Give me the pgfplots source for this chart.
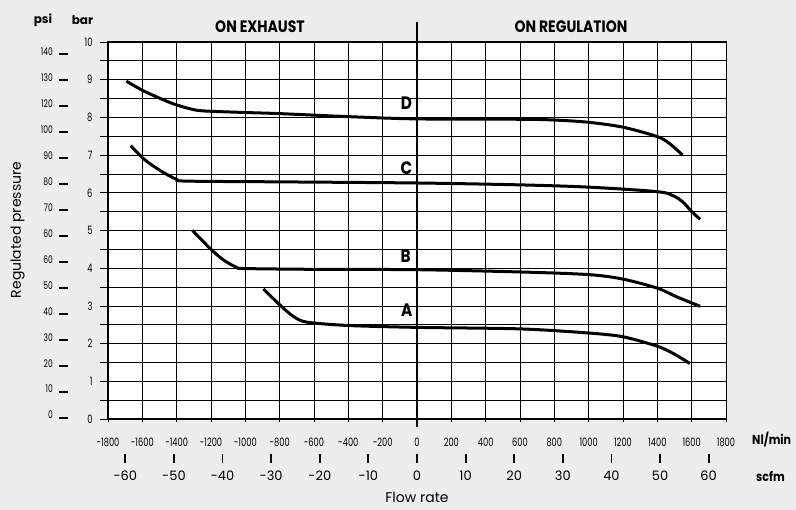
\documentclass[border=0pt]{standalone}
\usepackage{pgfplots}
\pgfplotsset{compat=1.18}
\usepackage{fontspec}
\setmainfont{Poppins}
\newfontfamily\condfont[FakeStretch=0.72]{Poppins}
\newfontfamily\boldcond[FakeStretch=0.85]{Poppins Bold}
\definecolor{bgc}{HTML}{EDEDED}
\newcommand{\psid}{\hspace{6pt}\rule[0.3pt]{9pt}{1.5pt}}
\newcommand{\scf}[1]{\makebox[0pt]{\raisebox{18.2pt}{\rule{1.8pt}{9pt}}}\makebox[0pt]{#1}}

\begin{document}
\begin{tikzpicture}[x=1pt,y=1pt]
\fill[bgc] (0pt,0pt) rectangle (796pt,510pt);
\path[use as bounding box] (0pt,0pt) rectangle (796pt,510pt);

% main axis: Nl/min and bar
\begin{axis}[at={(108pt,91pt)}, anchor=south west, scale only axis,
  width=618pt, height=377pt,
  xmin=-1800, xmax=1800, ymin=0, ymax=10,
  axis background/.style={fill=white},
  xtick={-1800,-1600,...,1800},
  xticklabels={-1800,-1600,-1400,-1200,-1000,-800,-600,-400,-200,0,200,400,600,800,1000,1200,1400,1600,1800},
  ytick={0,1,...,10},
  yticklabels={0,1,2,3,4,5,6,7,8,9,10},
  minor ytick={0.5,1.5,...,9.5},
  xtick pos=bottom, ytick pos=left,
  grid=both,
  grid style={black, line width=0.7pt},
  minor grid style={black, line width=0.7pt},
  tick align=outside,
  major tick length=8pt, minor tick length=8pt,
  xtick style={/pgfplots/major tick length=3pt},
  tick style={black, line width=0.7pt},
  axis line style={black, line width=1pt},
  xticklabel style={font=\condfont\fontsize{11.5}{12}\selectfont, anchor=center, yshift=-15pt},
  yticklabel style={font=\condfont\fontsize{11.5}{12}\selectfont, anchor=east, xshift=-4pt},
  clip=false,
]
\draw[line width=2pt] (axis cs:0,-0.2) -- (axis cs:0,10.53);

\addplot[smooth, line width=3pt] coordinates {
(-1693,8.96) (-1587,8.69) (-1431,8.38) (-1315,8.22) (-1237,8.17) (-1004,8.13)
(-800,8.10) (-400,8.02) (0,7.96) (600,7.95) (800,7.93) (1000,7.87) (1200,7.74)
(1400,7.49) (1473,7.30) (1547,7.00)};
\addplot[smooth, line width=3pt] coordinates {
(-1668,7.25) (-1587,6.88) (-1489,6.57) (-1402,6.36) (-1344,6.31) (-800,6.29)
(0,6.26) (600,6.21) (1000,6.15) (1400,6.03) (1493,5.92) (1550,5.75) (1600,5.50)
(1649,5.30)};
\addplot[smooth, line width=3pt] coordinates {
(-1308,5.00) (-1200,4.50) (-1128,4.22) (-1050,4.02) (-1000,3.99) (-600,3.97)
(0,3.96) (600,3.90) (1000,3.83) (1200,3.71) (1400,3.47) (1513,3.24) (1649,2.99)};
\addplot[smooth, line width=3pt] coordinates {
(-895,3.45) (-800,3.03) (-720,2.72) (-642,2.57) (-400,2.48) (0,2.43) (600,2.39)
(1000,2.28) (1200,2.18) (1400,1.93) (1500,1.72) (1590,1.47)};

\node[font=\boldcond\fontsize{18}{20}\selectfont] at (axis cs:-62,8.38) {D};
\node[font=\boldcond\fontsize{18}{20}\selectfont] at (axis cs:-62,6.65) {C};
\node[font=\boldcond\fontsize{18}{20}\selectfont] at (axis cs:-66,4.32) {B};
\node[font=\boldcond\fontsize{18}{20}\selectfont] at (axis cs:-60,2.89) {A};
\end{axis}

% psi axis
\begin{axis}[at={(108pt,91pt)}, anchor=south west, scale only axis,
  width=618pt, height=377pt,
  xmin=-1800, xmax=1800, ymin=0, ymax=145.038,
  axis line style={draw=none}, xtick=\empty,
  ytick={0,10,...,140},
  yticklabels={0\psid,10\psid,20\psid,30\psid,40\psid,50\psid,60\psid,60\psid,70\psid,80\psid,90\psid,100\psid,120\psid,130\psid,140\psid},
  major tick length=0pt,
  yticklabel style={font=\condfont\fontsize{10.5}{12}\selectfont, anchor=base east,
    inner sep=0pt, xshift=-40pt},
]
\end{axis}

% scfm axis
\begin{axis}[at={(108pt,91pt)}, anchor=south west, scale only axis,
  width=618pt, height=377pt,
  xmin=-63.566, xmax=63.566, ymin=0, ymax=10,
  axis line style={draw=none}, ytick=\empty,
  xtick={-60,-50,...,60},
  xticklabels={\scf{-60},\scf{-50},\scf{-40},\scf{-30},\scf{-20},\scf{-10},\scf{0},\scf{10},\scf{20},\scf{30},\scf{40},\scf{50},\scf{60}},
  xtick pos=bottom, tick align=center,
  major tick length=0pt,
  xtick style={draw=none},
  xticklabel style={font=\fontsize{13}{15}\selectfont, anchor=base,
    inner sep=0pt, yshift=-62pt},
]
\end{axis}

\node[font=\bfseries\fontsize{12}{14}\selectfont] at (43pt,489.5pt) {psi};
\node[font=\bfseries\fontsize{12}{14}\selectfont] at (82.5pt,490pt) {bar};
\node[font=\boldcond\fontsize{16.5}{18}\selectfont] at (260pt,483pt) {ON EXHAUST};
\node[font=\boldcond\fontsize{16.5}{18}\selectfont] at (571pt,483pt) {ON REGULATION};
\node[font=\fontsize{14}{16}\selectfont, rotate=90] at (17.5pt,280pt) {Regulated pressure};
\node[font=\fontsize{14}{16}\selectfont] at (417pt,13pt) {Flow rate};
\node[font=\boldcond\fontsize{13}{15}\selectfont, anchor=west, inner sep=0pt] at (752pt,70pt) {Nl/min};
\node[font=\boldcond\fontsize{13}{15}\selectfont, anchor=west, inner sep=0pt] at (756pt,34pt) {scfm};
\end{tikzpicture}
\end{document}
